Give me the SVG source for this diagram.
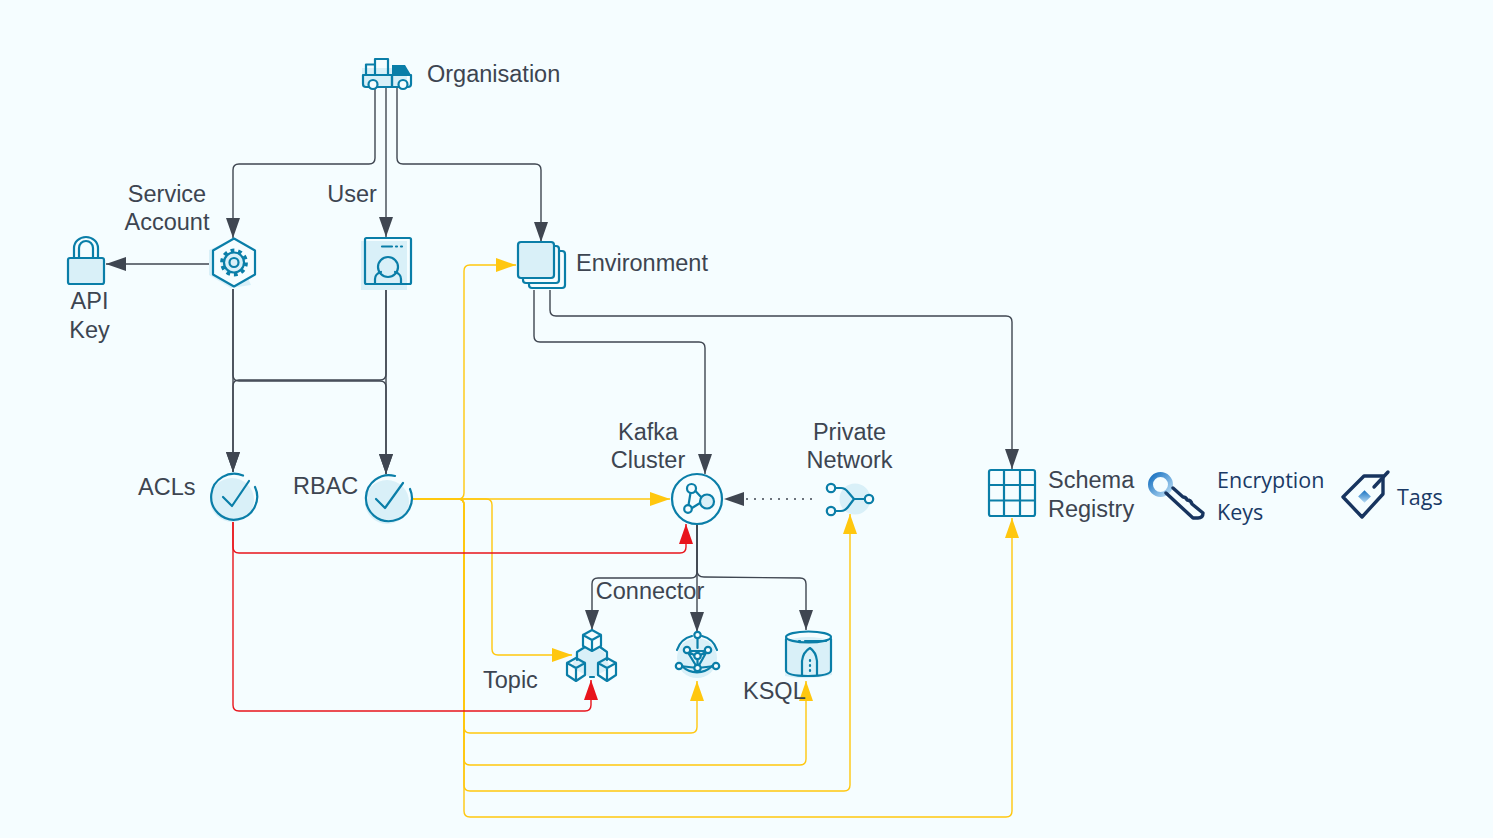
<svg xmlns="http://www.w3.org/2000/svg" width="1493" height="838" viewBox="0 0 1493 838">
<style>
text{font-family:"Liberation Sans",Arial,sans-serif;font-size:23.5px;fill:#3d4551}
.alt{font-family:"Open Sans","Noto Sans",sans-serif;font-size:21.5px;fill:#1a3a66}
.c{fill:none;stroke-width:1.4}
.g{stroke:#3f4651}.y{stroke:#ffc70f}.r{stroke:#e8141c}
.i{fill:none;stroke:#0a7ea8;stroke-width:2.2;stroke-linejoin:round;stroke-linecap:round}
.w{fill:#f5fdff;stroke:#0a7ea8;stroke-width:2.2;stroke-linejoin:round}
.f{fill:#d9f0f8;stroke:none}
.b{fill:#d9f0f8;stroke:#0a7ea8;stroke-width:2.2;stroke-linejoin:round;stroke-linecap:round}
.n{fill:none;stroke:#17345f;stroke-width:3.4;stroke-linejoin:round;stroke-linecap:round}
</style>
<defs>
<marker id="ag" markerUnits="userSpaceOnUse" markerWidth="22" markerHeight="16" refX="21" refY="8" orient="auto"><path d="M1 1L21 8L1 15Z" fill="#3f4651"/></marker>
<marker id="ay" markerUnits="userSpaceOnUse" markerWidth="22" markerHeight="16" refX="21" refY="8" orient="auto"><path d="M1 1L21 8L1 15Z" fill="#ffc70f"/></marker>
<marker id="ar" markerUnits="userSpaceOnUse" markerWidth="22" markerHeight="16" refX="21" refY="8" orient="auto"><path d="M1 1L21 8L1 15Z" fill="#e8141c"/></marker>
<linearGradient id="kg" x1="0" y1="0" x2="1" y2="1"><stop offset="0" stop-color="#1670c0"/><stop offset="1" stop-color="#b8dcf5"/></linearGradient>
</defs>
<rect width="1493" height="838" fill="#f5fdff"/>
<g id="connectors">
<path class="c g" marker-end="url(#ag)" d="M375 88V158Q375 164 369 164H239Q233 164 233 170V238"/>
<path class="c g" marker-end="url(#ag)" d="M386 88V237"/>
<path class="c g" marker-end="url(#ag)" d="M397 88V158Q397 164 403 164H535Q541 164 541 170V242"/>
<path class="c g" marker-end="url(#ag)" d="M210 264H106"/>
<path class="c g" marker-end="url(#ag)" d="M233 289V472"/>
<path class="c g" marker-end="url(#ag)" d="M233 289V375Q233 381 239 381H380Q386 381 386 387V474"/>
<path class="c g" marker-end="url(#ag)" d="M386 288V374Q386 380 380 380H239Q233 380 233 386V472"/>
<path class="c g" marker-end="url(#ag)" d="M386 288V474"/>
<path class="c g" marker-end="url(#ag)" d="M534 290V336Q534 342 540 342H699Q705 342 705 348V474"/>
<path class="c g" marker-end="url(#ag)" d="M550 290V310Q550 316 556 316H1006Q1012 316 1012 322V469"/>
<path class="c g" marker-end="url(#ag)" d="M697 525V572Q697 578 691 578H598Q592 578 592 584V630"/>
<path class="c g" marker-end="url(#ag)" d="M697 525V632"/>
<path class="c g" marker-end="url(#ag)" d="M697 525V570Q697 577 704 577L800 578Q806 578 806 584V630"/>
<path class="c g" stroke-dasharray="2 6" marker-end="url(#ag)" d="M812 499H724"/>
<path class="c y" marker-end="url(#ay)" d="M412 499H670"/>
<path class="c y" marker-end="url(#ay)" d="M412 499H486Q492 499 492 505V649Q492 655 498 655H572"/>
<path class="c y" marker-end="url(#ay)" d="M412 499H458Q464 499 464 493V271Q464 265 470 265H516"/>
<path class="c y" marker-end="url(#ay)" d="M412 499H458Q464 499 464 505V727Q464 733 470 733H691Q697 733 697 727V681"/>
<path class="c y" marker-end="url(#ay)" d="M412 499H458Q464 499 464 505V759Q464 765 470 765H800Q806 765 806 759V681"/>
<path class="c y" marker-end="url(#ay)" d="M412 499H458Q464 499 464 505V785Q464 791 470 791H844Q850 791 850 785V514"/>
<path class="c y" marker-end="url(#ay)" d="M412 499H458Q464 499 464 505V811Q464 817 470 817H1006Q1012 817 1012 811V518"/>
<path class="c r" marker-end="url(#ar)" d="M233 522V547Q233 553 239 553H680Q686 553 686 547V524"/>
<path class="c r" marker-end="url(#ar)" d="M233 522V705Q233 711 239 711H585Q591 711 591 705V680"/>
</g>
<g id="organisation">
<rect class="f" x="362" y="68" width="45" height="19"/>
<path class="i" d="M366 75V64.500H375M375 75V59H388V75"/>
<path class="b" d="M363 75H392V87H366Q363 87 363 84Z"/>
<path d="M392 65H405L411 75V76H392Z" fill="#0a7ea8"/>
<path class="i" d="M392 75H411V84Q411 87 408 87H392Z"/>
<circle class="w" cx="373" cy="84.500" r="4.500"/>
<circle class="w" cx="403" cy="84.500" r="4.500"/>
<text x="427" y="82">Organisation</text>
</g>
<g id="service-account">
<path class="f" d="M209 250L231 240L251 285L231 288L209 275Z"/>
<path class="w" style="fill:#f5fdff" d="M234 238.500L255 250.500V274.500L234 286.500L213 274.500V250.500Z"/>
<circle class="f" cx="232" cy="263" r="11"/>
<path class="i" d="M231 249.500H237L238 253.500L241.500 255L245 253L249 257L247 260.500L248.500 264L252 265V270L248.500 271L247 274L249 278L245 282M231 249.500" style="display:none"/>
<circle class="i" cx="234" cy="262.500" r="4.500"/>
<circle class="i" cx="234" cy="262.500" r="10" stroke-dasharray="0"/>
<circle cx="234" cy="262.500" r="12.200" fill="none" stroke="#0a7ea8" stroke-width="3.400" stroke-dasharray="3.800 3.870"/>
<text x="167" y="202" text-anchor="middle">Service</text>
<text x="167" y="230" text-anchor="middle">Account</text>
</g>
<g id="api-key">
<path class="i" d="M74 258V248A12 11 0 0 1 98 248V258M79 258V248A7 7 0 0 1 93 248V258"/>
<rect class="b" x="68" y="258" width="36" height="26" rx="2"/>
<text x="89.500" y="309" text-anchor="middle">API</text>
<text x="89.500" y="338" text-anchor="middle">Key</text>
</g>
<g id="user">
<rect class="f" x="361" y="241" width="46" height="49"/>
<rect class="i" x="365" y="238" width="46" height="46" rx="1.500"/>
<path class="i" d="M382 246.500H392M396 246.500H397M401 246.500H402"/>
<circle class="b" cx="388" cy="267" r="10"/>
<path class="i" d="M375 284V279Q375 274 381 272M401 284V279Q401 274 395 272"/>
<text x="352" y="202" text-anchor="middle">User</text>
</g>
<g id="environment">
<rect class="w" x="529" y="251" width="36" height="37" rx="3"/>
<rect class="w" x="523" y="246" width="36" height="37" rx="3"/>
<rect class="b" x="518" y="242" width="36" height="36" rx="3"/>
<text x="576" y="271">Environment</text>
</g>
<g id="acls">
<circle class="f" cx="232" cy="500" r="22"/>
<path class="i" d="M243 475.500A23 23 0 1 0 255 487"/>
<path class="i" d="M223 497L232 506L249 481"/>
<text x="138" y="495">ACLs</text>
</g>
<g id="rbac">
<circle class="f" cx="387" cy="502" r="22"/>
<path class="i" d="M395 476A23 23 0 1 0 410 489"/>
<path class="i" d="M376 499L385 508L403 483"/>
<text x="293" y="494">RBAC</text>
</g>
<g id="kafka-cluster">
<circle class="i" cx="697" cy="499" r="25" style="fill:#f5fdff"/>
<circle class="w" cx="691.500" cy="488.500" r="4.500"/>
<circle class="b" cx="707" cy="501.500" r="7"/>
<circle class="w" cx="688" cy="509" r="3.800"/>
<path class="i" d="M690.500 493L688.500 505M695.500 491L701 497M692 508L700 503"/>
<text x="648" y="440" text-anchor="middle">Kafka</text>
<text x="648" y="468" text-anchor="middle">Cluster</text>
</g>
<g id="private-network">
<circle class="f" cx="855" cy="499" r="15.500"/>
<path class="i" d="M836 488H841Q845 488 848 492L854 499H865M836 511H841Q845 511 848 507L854 499"/>
<circle class="w" cx="831" cy="488" r="4.200"/>
<circle class="w" cx="831" cy="511" r="4.200"/>
<circle class="w" cx="869" cy="499" r="4.200"/>
<text x="849.500" y="440" text-anchor="middle">Private</text>
<text x="849.500" y="468" text-anchor="middle">Network</text>
</g>
<g id="topic">
<path class="f" d="M576 652L590 644L604 652L610 668L592 678L572 668Z"/>
<path class="i" d="M577 652L585 647M600 647L607 652V660M577 652V660M590 677L594 677"/>
<path class="b" style="fill:#f5fdff" d="M592 630L601 635V646L592 651L583 646V635ZM583 635L592 640L601 635M592 640V651"/>
<path class="i" d="M576 658L585 663V675L576 681L567 675V663ZM567 663L576 668L585 663M576 668V681"/>
<path class="i" d="M607 658L616 663V675L607 681L598 675V663ZM598 663L607 668L616 663M607 668V681"/>
<text x="483" y="688">Topic</text>
</g>
<g id="connector">
<circle class="f" cx="697" cy="658" r="20"/>
<path class="i" d="M692 636A21 21 0 0 0 677 650M702 636A21 21 0 0 1 717 650M682 666A21 21 0 0 0 712 666"/>
<path class="i" d="M687 651L707 651L697.500 668ZM697.500 657V668M687 651L697.500 657L707 651M697.500 637V648M680 666L697.500 668L715 666"/>
<circle class="w" cx="697.500" cy="635" r="3.200"/>
<circle class="w" cx="687" cy="650" r="3.200"/>
<circle class="w" cx="708" cy="650" r="3.200"/>
<circle class="w" cx="697.500" cy="656" r="3.200"/>
<circle class="w" cx="679" cy="666" r="3.200"/>
<circle class="w" cx="716" cy="666" r="3.200"/>
<circle class="w" cx="697.500" cy="668" r="3.200"/>
<text x="650" y="599" text-anchor="middle">Connector</text>
</g>
<g id="ksql">
<path class="f" d="M785 641Q808 633 832 641V675Q808 681 785 676Z"/>
<path class="i" d="M786 639V670Q786 676 808 676Q831 676 831 670V639"/>
<ellipse class="i" cx="808.500" cy="637" rx="22.500" ry="5.500"/>
<path class="i" d="M799 641H800M805 641H826"/>
<path class="i" d="M802 675V661Q803 652 810 648Q816 652 817 661V675"/>
<path class="i" d="M810 660V661M810 665V666M810 670V671"/>
<text x="743" y="699">KSQL</text>
</g>
<g id="schema-registry">
<rect class="i" x="989" y="470" width="46" height="46" rx="2"/>
<path class="i" d="M1004 470V516M1020 470V516M989 485H1035M989 500.500H1035"/>
<text x="1048" y="488">Schema</text>
<text x="1048" y="517">Registry</text>
</g>
<g id="encryption-keys">
<circle cx="1160.500" cy="484.500" r="10" fill="none" stroke="url(#kg)" stroke-width="5"/>
<path class="n" d="M1173 488L1183 497Q1186 497 1187 500Q1191 500 1192 504L1203 513Q1203 518 1198 518L1193 518L1166 493"/>
<text class="alt" x="1217" y="488">Encryption</text>
<text class="alt" x="1217" y="520">Keys</text>
</g>
<g id="tags">
<path class="n" d="M1343 497L1364 476H1383V494L1362 517Z"/>
<path class="n" d="M1374 487L1388 472"/>
<rect x="1360" y="492" width="9" height="9" transform="rotate(45 1364.500 496.500)" fill="url(#kg)"/>
<text class="alt" x="1397" y="505">Tags</text>
</g>
</svg>
